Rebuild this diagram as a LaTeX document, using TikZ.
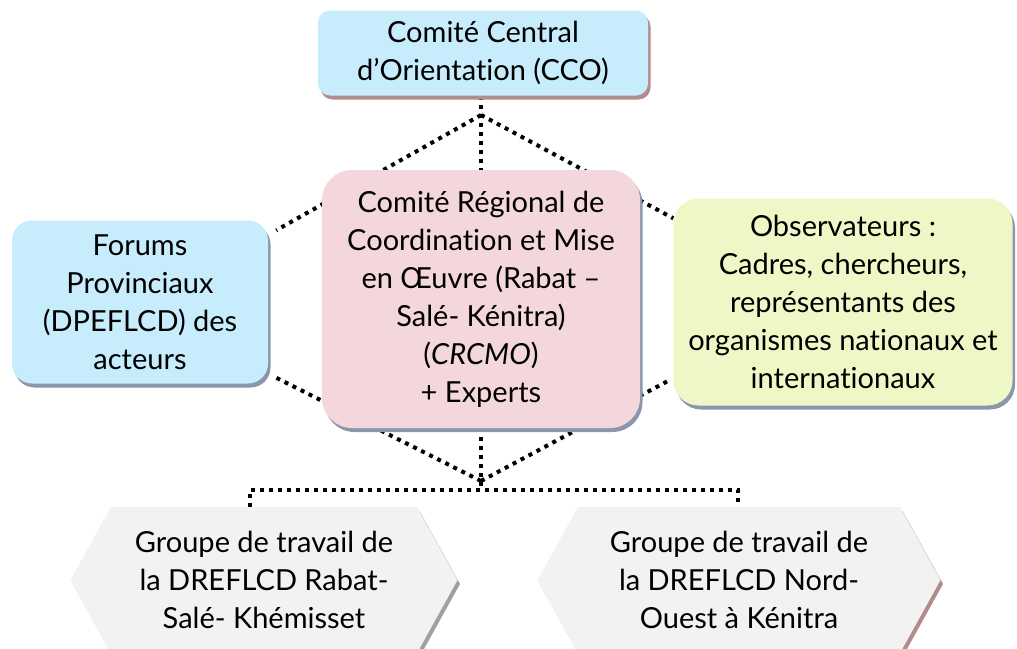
\documentclass[tikz,border=0pt]{standalone}
\usepackage{fontspec}
\setmainfont{Lato}[Ligatures={NoCommon,NoRequired,NoContextual}]
\usetikzlibrary{shapes.symbols,shadows,backgrounds}

\definecolor{ccoblue}{RGB}{199,236,251}
\definecolor{crcpink}{RGB}{244,215,220}
\definecolor{obsgreen}{RGB}{238,247,198}
\definecolor{hexgray}{RGB}{242,242,242}
\definecolor{shblue}{RGB}{138,150,170}
\definecolor{shmauve}{RGB}{178,140,140}
\definecolor{shgray}{RGB}{160,160,160}

\begin{document}
\begin{tikzpicture}[x=1pt,y=-1pt,
    txt/.style={align=center,inner sep=0pt,font=\fontsize{29}{38}\selectfont},
    box/.style={txt,rectangle,rounded corners=#1},
    hex/.style={txt,signal,signal to=west and east,signal pointer angle=122,fill=hexgray,
      minimum height=146pt},
    sh/.style={drop shadow={shadow xshift=2.5pt,shadow yshift=-4pt,opacity=1,fill=#1}},
    link/.style={line width=4pt,dash pattern=on 4pt off 5pt}]
  \useasboundingbox (0,0) rectangle (1017,648);
  \node[box=12pt,fill=ccoblue,sh=shmauve,minimum width=330pt,minimum height=85pt] (cco) at (483,53)
    {Comité Central\\d’Orientation (CCO)};
  \node[box=30pt,fill=crcpink,sh=shblue,minimum width=318pt,minimum height=258pt] (crcmo) at (481,299)
    {Comité Régional de\\Coordination et Mise\\en Œuvre (Rabat –\\Salé- Kénitra)\\(\textit{CRCMO})\\+ Experts};
  \node[box=20pt,fill=ccoblue,sh=shblue,minimum width=256pt,minimum height=163pt] (forums) at (140,302)
    {Forums\\Provinciaux\\(DPEFLCD) des\\acteurs};
  \node[box=25pt,fill=obsgreen,sh=shblue,minimum width=339pt,minimum height=207pt] (obs) at (843,302)
    {Observateurs :\\Cadres, chercheurs,\\représentants des\\organismes nationaux et\\internationaux};
  \node[hex,sh=shgray,minimum width=387pt] (grpL) at (264,580)
    {Groupe de travail de\\la DREFLCD Rabat-\\Salé- Khémisset};
  \node[hex,sh=shmauve,minimum width=403pt] (grpR) at (739,580)
    {Groupe de travail de\\la DREFLCD Nord-\\Ouest à Kénitra};
  \coordinate (top) at (481,115);
  \coordinate (bot) at (481,481);
  \coordinate (barL) at (250,490);
  \coordinate (barR) at (738,490);
  \begin{scope}[on background layer]
    \draw[link] (cco.south -| top) -- (top) -- (crcmo.north -| top);
    \draw[link] (top) -- ([shift={(8,10)}]forums.north east);
    \draw[link] (top) -- ([shift={(0,20)}]obs.north west);
    \draw[link] (bot) -- ([shift={(6,-7)}]forums.south east);
    \draw[link] (bot) -- ([shift={(-3,-26)}]obs.south west);
    \draw[link] (crcmo.south -| bot) -- (bot |- barL);
    \draw[link] (barL |- grpL.north) -- (barL) -- (barR) -- (barR |- grpR.north);
  \end{scope}
\end{tikzpicture}
\end{document}
